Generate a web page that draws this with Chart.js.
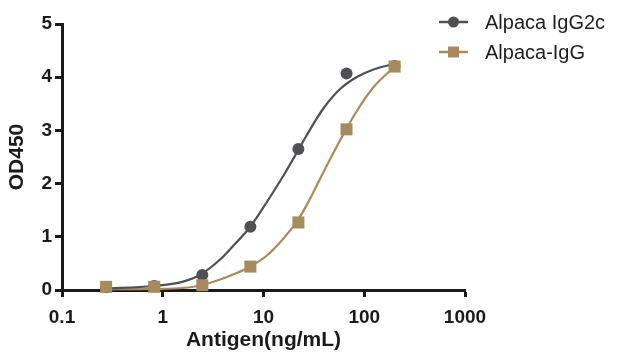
<!DOCTYPE html>
<html>
<head>
<meta charset="utf-8">
<script src="https://cdn.jsdelivr.net/npm/chart.js@4/dist/chart.umd.min.js"></script>
<style>
  html, body { margin: 0; padding: 0; background: #ffffff; }
  #wrap { position: relative; width: 625px; height: 360px; }
</style>
</head>
<body>
<div id="wrap"><canvas id="c" width="625" height="360"></canvas></div>
<script>
// Measured concentrations (ng/mL) and OD450 readings
const concentrations = [0.274, 0.823, 2.47, 7.41, 22.2, 66.7, 200];
const igG2cOD = [0.05, 0.075, 0.28, 1.19, 2.65, 4.07, 4.21];
const igGOD = [0.06, 0.06, 0.09, 0.44, 1.27, 3.02, 4.20];

// Fitted curves
const fitX = [0.267, 0.801, 1.59, 2.35, 3.71, 4.99, 7.36, 10.8, 15.8, 21.6, 27.1, 39.3, 57.6, 84.4, 123.4, 193.6];
const igG2cFit = [0.030, 0.075, 0.158, 0.286, 0.573, 0.827, 1.184, 1.654, 2.152, 2.594, 2.923, 3.412, 3.778, 4.004, 4.145, 4.248];
const igGFit = [0.013, 0.021, 0.038, 0.085, 0.197, 0.291, 0.438, 0.648, 0.968, 1.300, 1.610, 2.215, 2.815, 3.365, 3.810, 4.175];

const seriesNames = ['Alpaca IgG2c', 'Alpaca-IgG'];
const xTicks = [0.1, 1, 10, 100, 1000];
const yTicks = [0, 1, 2, 3, 4, 5];
const xTitle = 'Antigen(ng/mL)';
const yTitle = 'OD450';

const GRAY = '#4e5054';
const TAN = '#a88b5c';

const pts = (xs, ys) => xs.map((x, i) => ({ x: x, y: ys[i] }));

const legendPlugin = {
  id: 'lineMarkerLegend',
  afterDraw(chart) {
    const ctx = chart.ctx;
    const items = [
      { label: seriesNames[0], color: GRAY, style: 'circle', y: 22 },
      { label: seriesNames[1], color: TAN, style: 'rect', y: 52 }
    ];
    ctx.save();
    items.forEach(it => {
      ctx.strokeStyle = it.color;
      ctx.lineWidth = 2.5;
      ctx.beginPath();
      ctx.moveTo(439, it.y);
      ctx.lineTo(468, it.y);
      ctx.stroke();
      ctx.fillStyle = it.color;
      ctx.beginPath();
      if (it.style === 'circle') {
        ctx.arc(453.5, it.y, 5.5, 0, Math.PI * 2);
      } else {
        ctx.rect(453.5 - 5.5, it.y - 5.5, 11, 11);
      }
      ctx.fill();
      ctx.fillStyle = '#1e1e1e';
      ctx.font = '20px "Liberation Sans", Arial, sans-serif';
      ctx.textBaseline = 'middle';
      ctx.textAlign = 'left';
      ctx.fillText(it.label, 485, it.y + 1);
    });
    ctx.restore();
  }
};

new Chart(document.getElementById('c'), {
  type: 'scatter',
  data: {
    datasets: [
      {
        label: seriesNames[1],
        data: pts(concentrations, igGOD),
        backgroundColor: TAN, borderColor: TAN,
        pointStyle: 'rect', pointRadius: 8.5, pointHoverRadius: 8.5, borderWidth: 0,
        showLine: false, clip: false
      },
      {
        label: seriesNames[0],
        data: pts(concentrations, igG2cOD),
        backgroundColor: GRAY, borderColor: GRAY,
        pointStyle: 'circle', pointRadius: 6, pointHoverRadius: 6, borderWidth: 0,
        showLine: false, clip: false
      },
      {
        label: seriesNames[0] + ' fit',
        data: pts(fitX, igG2cFit),
        borderColor: GRAY, borderWidth: 2.2,
        pointRadius: 0, showLine: true, cubicInterpolationMode: 'monotone', clip: false
      },
      {
        label: seriesNames[1] + ' fit',
        data: pts(fitX, igGFit),
        borderColor: TAN, borderWidth: 2.2,
        pointRadius: 0, showLine: true, cubicInterpolationMode: 'monotone', clip: false
      }
    ]
  },
  options: {
    responsive: false,
    animation: false,
    devicePixelRatio: 1,
    layout: { padding: { top: 24, right: 160, left: 0, bottom: 0 } },
    plugins: {
      legend: { display: false },
      tooltip: { enabled: false }
    },
    scales: {
      x: {
        type: 'logarithmic',
        min: 0.1, max: 1000,
        afterBuildTicks: s => { s.ticks = xTicks.map(v => ({ value: v })); },
        afterFit: s => { s.height = 70; },
        border: { display: true, color: '#1a1a1a', width: 3 },
        grid: { drawOnChartArea: false, drawTicks: true, tickLength: 7, tickWidth: 3, tickColor: '#1a1a1a' },
        ticks: {
          autoSkip: false, maxRotation: 0, padding: 9, color: '#1a1a1a',
          font: { family: '"Liberation Sans", Arial, sans-serif', size: 19, weight: 'bold' },
          callback: v => String(v)
        },
        title: {
          display: true, text: xTitle, color: '#1a1a1a',
          padding: { top: 0, bottom: 7 },
          font: { family: '"Liberation Sans", Arial, sans-serif', size: 21, weight: 'bold' }
        }
      },
      y: {
        type: 'linear',
        min: 0, max: 5,
        afterBuildTicks: s => { s.ticks = yTicks.map(v => ({ value: v })); },
        afterFit: s => { s.width = 62; },
        border: { display: true, color: '#1a1a1a', width: 3 },
        grid: { drawOnChartArea: false, drawTicks: true, tickLength: 7, tickWidth: 3, tickColor: '#1a1a1a' },
        ticks: {
          padding: 3, color: '#1a1a1a',
          font: { family: '"Liberation Sans", Arial, sans-serif', size: 19, weight: 'bold' },
          callback: v => String(v)
        },
        title: {
          display: true, text: yTitle, color: '#1a1a1a',
          padding: { top: 5, bottom: 0 },
          font: { family: '"Liberation Sans", Arial, sans-serif', size: 21, weight: 'bold' }
        }
      }
    }
  },
  plugins: [legendPlugin]
});
</script>
</body>
</html>
